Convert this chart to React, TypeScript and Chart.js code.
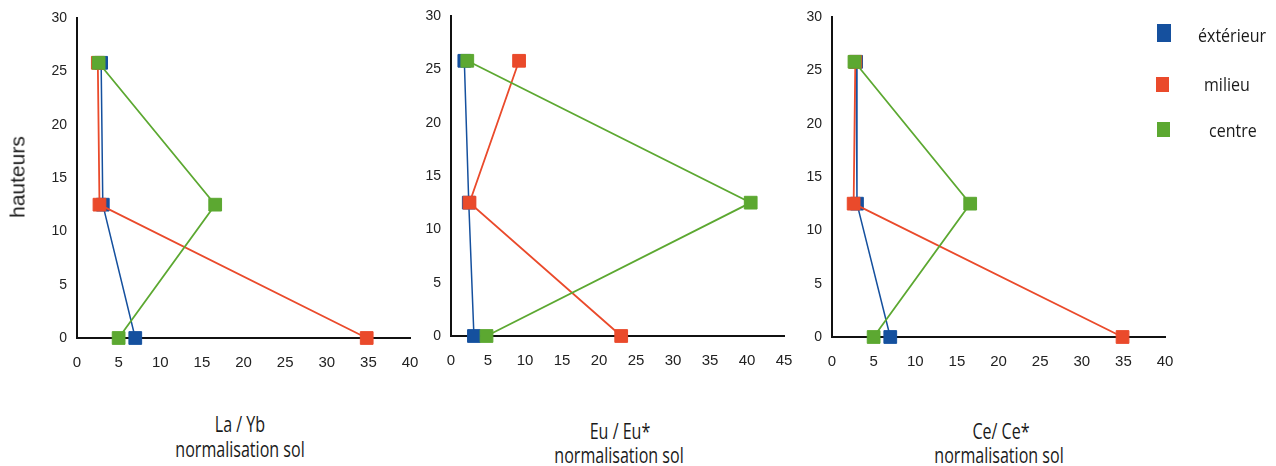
import React, { useEffect, useRef } from "react";
import { Chart, registerables } from "chart.js";

Chart.register(...registerables);

// ---------- data ----------
const heights = [25.8, 12.5, 0];
const seriesNames = ["éxtérieur", "milieu", "centre"];
const seriesColors = ["#15509e", "#ea4a2b", "#5ca831"];

const laYbExterieur = [2.9, 3.1, 7.0];
const laYbMilieu = [2.5, 2.7, 34.8];
const laYbCentre = [2.6, 16.6, 5.0];

const euExterieur = [1.8, 2.4, 3.1];
const euMilieu = [9.2, 2.5, 23.0];
const euCentre = [2.2, 40.5, 4.8];

const ceExterieur = [2.9, 3.0, 7.0];
const ceMilieu = [2.8, 2.6, 34.9];
const ceCentre = [2.7, 16.6, 5.0];

const yTickLabels = [0, 5, 10, 15, 20, 25, 30];
const xTicksLaYb = [0, 5, 10, 15, 20, 25, 30, 35, 40];
const xTicksEu = [0, 5, 10, 15, 20, 25, 30, 35, 40, 45];
const xTicksCe = [0, 5, 10, 15, 20, 25, 30, 35, 40];

const titleLaYb = ["La / Yb", "normalisation sol"];
const titleEu = ["Eu / Eu*", "normalisation sol"];
const titleCe = ["Ce/ Ce*", "normalisation sol"];
const yAxisTitle = "hauteurs";

// ---------- layout ----------
const CANVAS_H = 400;
const X_AXIS_H = 40;
const TICK_FONT = "'Liberation Sans', Arial, sans-serif";
const TEXT_FONT = "'Open Sans', sans-serif";

type PanelCfg = {
  left: number;
  width: number;
  areaLeft: number;
  areaRight: number;
  areaTop: number;
  areaBottom: number;
  xTicks: number[];
  series: number[][];
};

const panels: PanelCfg[] = [
  { left: 0, width: 425, areaLeft: 77, areaRight: 410, areaTop: 18, areaBottom: 338, xTicks: xTicksLaYb, series: [laYbExterieur, laYbMilieu, laYbCentre] },
  { left: 395, width: 405, areaLeft: 451, areaRight: 784, areaTop: 16, areaBottom: 336, xTicks: xTicksEu, series: [euExterieur, euMilieu, euCentre] },
  { left: 780, width: 400, areaLeft: 832, areaRight: 1165, areaTop: 17, areaBottom: 337, xTicks: xTicksCe, series: [ceExterieur, ceMilieu, ceCentre] },
];

function Panel({ cfg }: { cfg: PanelCfg }) {
  const ref = useRef<HTMLCanvasElement>(null);
  useEffect(() => {
    const canvas = ref.current;
    if (!canvas) return;
    const yWidth = cfg.areaLeft - cfg.left;
    const chart = new Chart(canvas, {
      type: "scatter",
      data: {
        datasets: cfg.series.map((vals, i) => ({
          label: seriesNames[i],
          data: vals.map((x, j) => ({ x, y: heights[j] })),
          showLine: true,
          tension: 0,
          borderColor: seriesColors[i],
          backgroundColor: seriesColors[i],
          borderWidth: i === 0 ? 1.5 : 1.8,
          pointStyle: "rect",
          pointRadius: 9,
          pointHoverRadius: 9,
          pointBorderWidth: 1,
          pointBorderColor: seriesColors[i],
          pointBackgroundColor: seriesColors[i],
          order: 3 - i,
          clip: false as any,
        })),
      },
      options: {
        responsive: false,
        animation: false,
        events: [],
        layout: {
          autoPadding: false,
          padding: {
            left: 0,
            top: cfg.areaTop,
            right: cfg.left + cfg.width - cfg.areaRight,
            bottom: CANVAS_H - cfg.areaBottom - X_AXIS_H,
          },
        },
        plugins: { legend: { display: false }, tooltip: { enabled: false }, title: { display: false } },
        scales: {
          x: {
            type: "linear",
            min: cfg.xTicks[0],
            max: cfg.xTicks[cfg.xTicks.length - 1],
            afterBuildTicks: (s: any) => {
              s.ticks = cfg.xTicks.map((v) => ({ value: v }));
            },
            ticks: { autoSkip: false, maxRotation: 0, padding: 16, color: "#222", font: { family: TICK_FONT, size: 15 } },
            grid: { display: false, drawTicks: false },
            border: { display: true, color: "#111", width: 2 },
            afterFit: (s: any) => {
              s.height = X_AXIS_H;
              s.paddingLeft = 0;
              s.paddingRight = 0;
            },
          },
          y: {
            type: "linear",
            min: yTickLabels[0],
            max: yTickLabels[yTickLabels.length - 1],
            afterBuildTicks: (s: any) => {
              s.ticks = yTickLabels.map((v) => ({ value: v }));
            },
            ticks: { autoSkip: false, padding: 10, color: "#222", font: { family: TICK_FONT, size: 14 } },
            grid: { display: false, drawTicks: false },
            border: { display: true, color: "#111", width: 2 },
            afterFit: (s: any) => {
              s.width = yWidth;
              s.paddingTop = 0;
              s.paddingBottom = 0;
            },
          },
        },
      },
    });
    return () => chart.destroy();
  }, [cfg]);
  return (
    <canvas
      ref={ref}
      width={cfg.width}
      height={CANVAS_H}
      style={{ position: "absolute", left: cfg.left, top: 0, width: cfg.width, height: CANVAS_H }}
    />
  );
}

function TextLine({ text, cx, baseline, size, scale }: { text: string; cx: number; baseline: number; size: number; scale: number }) {
  const top = baseline - size * 0.888;
  return (
    <div
      style={{
        position: "absolute",
        left: cx - 150,
        width: 300,
        top,
        textAlign: "center",
        fontFamily: TEXT_FONT,
        fontSize: size,
        lineHeight: `${size}px`,
        color: "#1a1a1a",
        whiteSpace: "nowrap",
        transform: `scaleX(${scale})`,
        transformOrigin: "center",
      }}
    >
      {text}
    </div>
  );
}

function LegendItem({ color, text, sqLeft, sqTop, sqW, sqH, textLeft, baseline }: any) {
  const size = 18;
  return (
    <>
      <div style={{ position: "absolute", left: sqLeft, top: sqTop, width: sqW, height: sqH, background: color }} />
      <div
        style={{
          position: "absolute",
          left: textLeft,
          top: baseline - size * 0.888,
          fontFamily: TEXT_FONT,
          fontSize: size,
          lineHeight: `${size}px`,
          color: "#1a1a1a",
          whiteSpace: "nowrap",
          transform: "scaleX(0.89)",
          transformOrigin: "left",
        }}
      >
        {text}
      </div>
    </>
  );
}

export default function App() {
  return (
    <div style={{ position: "absolute", left: 0, top: 0, width: 1276, height: 466, background: "#fff", overflow: "hidden" }}>
      {panels.map((p, i) => (
        <Panel key={i} cfg={p} />
      ))}
      <div
        style={{
          position: "absolute",
          left: 17,
          top: 177,
          fontFamily: "'Liberation Sans', Arial, sans-serif",
          fontSize: 21,
          lineHeight: "21px",
          color: "#1a1a1a",
          whiteSpace: "nowrap",
          transform: "translate(-50%, -50%) rotate(-90deg)",
        }}
      >
        {yAxisTitle}
      </div>
      <TextLine text={titleLaYb[0]} cx={240} baseline={431.5} size={22} scale={0.73} />
      <TextLine text={titleLaYb[1]} cx={240} baseline={456.5} size={22} scale={0.73} />
      <TextLine text={titleEu[0]} cx={620} baseline={438.3} size={22} scale={0.73} />
      <TextLine text={titleEu[1]} cx={618.7} baseline={462.3} size={22} scale={0.73} />
      <TextLine text={titleCe[0]} cx={1001} baseline={439} size={22} scale={0.73} />
      <TextLine text={titleCe[1]} cx={998.7} baseline={462.3} size={22} scale={0.73} />
      <LegendItem color={seriesColors[0]} text={seriesNames[0]} sqLeft={1157} sqTop={24} sqW={14} sqH={18} textLeft={1198} baseline={41.7} />
      <LegendItem color={seriesColors[1]} text={seriesNames[1]} sqLeft={1156} sqTop={77} sqW={13} sqH={15} textLeft={1204} baseline={90.7} />
      <LegendItem color={seriesColors[2]} text={seriesNames[2]} sqLeft={1157} sqTop={122} sqW={13} sqH={15} textLeft={1209} baseline={136.7} />
    </div>
  );
}
